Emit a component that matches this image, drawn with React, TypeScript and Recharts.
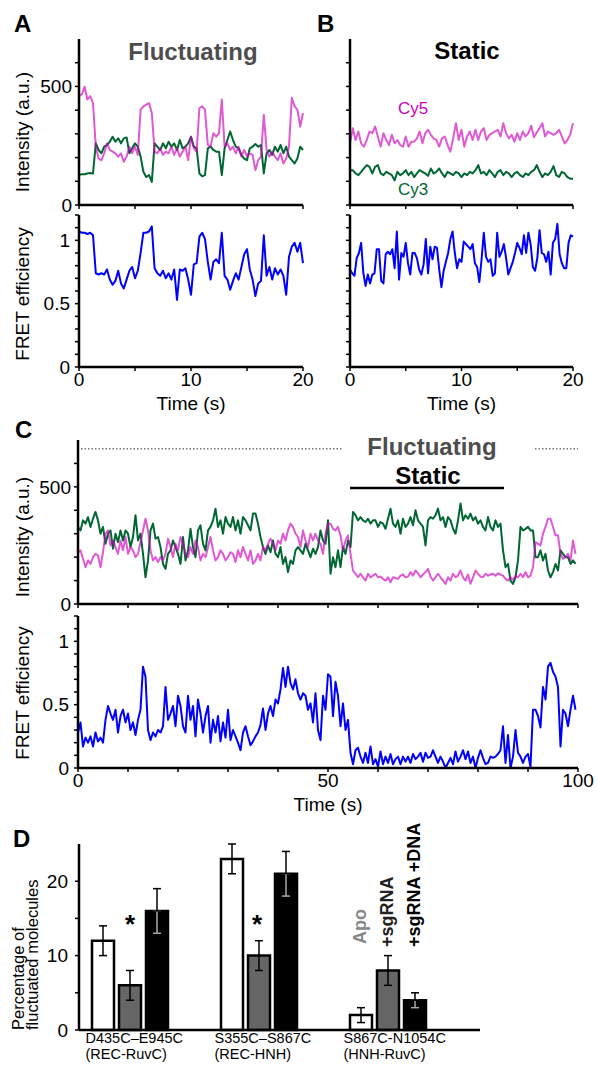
import React from "react";
import {
  Bar,
  BarChart,
  ErrorBar,
  Label,
  Line,
  LineChart,
  ReferenceLine,
  XAxis,
  YAxis,
} from "recharts";

const FONT = '"Liberation Sans", Arial, Helvetica, sans-serif';
const CY3_GREEN = "#006633";
const CY5_MAGENTA = "#cc00bb";
const FRET_BLUE = "#0000ff";

// Panel A: fluctuating molecule, 0.25 s frames
const fluctFrame = 0.25;
const fluctCy5 = [
  459, 466, 499, 445, 459, 430, 246, 196, 189, 218, 260, 232, 225, 218, 204, 218, 182, 204, 246, 218,
  246, 211, 402, 416, 423, 430, 388, 225, 218, 239, 211, 225, 218, 246, 211, 239, 204, 225, 246, 189,
  288, 239, 225, 409, 416, 402, 253, 246, 303, 288, 303, 445, 246, 260, 232, 246, 218, 246, 204, 232,
  204, 218, 211, 147, 189, 204, 381, 232, 204, 225, 204, 189, 218, 175, 196, 246, 452, 416, 402, 331,
  388,
];
const fluctCy3 = [
  126, 130, 130, 133, 135, 133, 260, 232, 218, 246, 253, 267, 288, 267, 281, 260, 281, 285, 218, 239,
  260, 246, 204, 140, 118, 126, 97, 260, 246, 232, 260, 239, 267, 246, 260, 232, 274, 239, 246, 260,
  288, 246, 239, 133, 121, 126, 239, 246, 232, 225, 225, 126, 239, 274, 310, 274, 246, 239, 211, 196,
  189, 239, 246, 257, 246, 253, 133, 218, 232, 211, 246, 225, 253, 218, 246, 204, 189, 175, 196, 246,
  232,
];
const fluctFret = [
  1.07, 1.06, 1.06, 1.05, 1.06, 1.04, 0.74, 0.73, 0.74, 0.73, 0.77, 0.69, 0.65, 0.68, 0.76, 0.66, 0.62, 0.69, 0.76, 0.79,
  0.7, 0.76, 0.9, 1.06, 1.06, 1.07, 1.11, 0.78, 0.74, 0.72, 0.76, 0.7, 0.74, 0.69, 0.77, 0.53, 0.77, 0.76, 0.78, 0.69,
  0.57, 0.81, 0.82, 1.03, 1.06, 1.01, 0.83, 0.69, 0.83, 0.85, 0.82, 1.06, 0.72, 0.69, 0.61, 0.68, 0.74, 0.69, 0.79, 0.89,
  0.93, 0.77, 0.69, 0.56, 0.66, 0.68, 1.04, 0.72, 0.79, 0.69, 0.78, 0.73, 0.77, 0.72, 0.57, 0.87, 0.95, 0.98, 0.91, 0.98,
  0.82,
];

// Panel B: static molecule
const staticFrame = 0.25;
const staticCy5 = [
  260, 324, 274, 310, 260, 246, 274, 310, 303, 331, 289, 246, 303, 274, 253, 296, 260, 274, 253, 246,
  289, 246, 267, 267, 281, 310, 260, 303, 317, 296, 281, 274, 246, 281, 289, 253, 225, 281, 345, 274,
  317, 246, 289, 310, 274, 317, 274, 310, 324, 274, 296, 303, 310, 317, 289, 345, 303, 281, 296, 267,
  303, 274, 310, 289, 303, 334, 286, 306, 324, 345, 289, 310, 303, 296, 303, 317, 289, 260, 274, 296,
  345,
];
const staticCy3 = [
  147, 147, 133, 126, 140, 154, 168, 161, 133, 161, 168, 133, 126, 140, 133, 126, 104, 140, 126, 133,
  147, 126, 140, 118, 133, 147, 140, 133, 123, 154, 133, 140, 154, 133, 118, 140, 133, 126, 140, 133,
  118, 133, 126, 140, 133, 147, 168, 133, 140, 126, 147, 133, 118, 140, 147, 126, 140, 133, 118, 133,
  140, 126, 118, 133, 126, 140, 147, 168, 140, 118, 133, 126, 140, 164, 126, 118, 140, 133, 118, 111,
  111,
];
const staticFretFrame = 0.2;
const staticFret = [
  0.77, 0.74, 0.72, 0.86, 0.9, 0.98, 0.74, 0.64, 0.73, 0.66, 0.73, 0.74, 0.93, 0.93, 0.68, 0.66, 0.89, 0.91, 0.89, 0.93,
  0.78, 1.07, 0.69, 0.9, 0.87, 0.98, 0.82, 0.73, 0.9, 0.9, 0.86, 0.77, 0.73, 0.81, 1.01, 0.74, 0.95, 0.85, 0.95, 0.94,
  0.77, 0.63, 0.76, 0.83, 0.9, 1.01, 1.07, 0.9, 0.78, 0.85, 0.83, 0.99, 0.97, 0.95, 0.93, 0.97, 0.82, 0.79, 0.67, 0.85,
  1.06, 0.87, 0.83, 0.85, 0.72, 0.74, 1.06, 0.87, 0.91, 0.97, 0.86, 0.73, 0.78, 0.83, 0.9, 0.98, 0.94, 0.89, 1.04, 0.9,
  1.06, 0.97, 0.79, 0.76, 0.86, 1.08, 0.9, 0.89, 0.83, 0.91, 0.73, 0.98, 1.01, 1.13, 0.89, 0.82, 0.78, 0.78, 0.98, 1.04,
  1.03,
];

// Panel C: long trace switching between fluctuating and static, 0.5 s frames
const longFrame = 0.5;
const longCy3 = [
  329, 314, 357, 343, 371, 329, 364, 393, 357, 300, 329, 257, 300, 314, 236, 300, 264, 314, 271, 314,
  300, 243, 286, 379, 271, 300, 214, 114, 186, 314, 343, 279, 286, 243, 171, 150, 214, 229, 271, 243,
  214, 171, 286, 186, 229, 321, 243, 200, 314, 336, 257, 229, 314, 329, 357, 407, 329, 357, 300, 371,
  343, 329, 371, 314, 357, 300, 371, 357, 336, 314, 386, 386, 343, 286, 243, 214, 250, 221, 271, 214,
  200, 243, 171, 200, 136, 186, 171, 229, 243, 229, 214, 257, 229, 200, 236, 214, 243, 314, 271, 257,
  357, 129, 200, 157, 229, 157, 243, 214, 271, 243, 393, 379, 357, 371, 357, 350, 364, 343, 357, 357,
  329, 350, 343, 321, 364, 407, 343, 329, 357, 300, 364, 329, 343, 371, 336, 400, 357, 343, 329, 250,
  357, 371, 364, 379, 407, 357, 371, 329, 371, 357, 321, 300, 357, 429, 357, 379, 364, 386, 357, 371,
  343, 357, 329, 314, 371, 329, 314, 357, 329, 343, 229, 157, 171, 100, 86, 114, 186, 329, 314, 321,
  329, 314, 314, 200, 200, 229, 186, 214, 143, 114, 136, 171, 143, 229, 214, 200, 200, 171, 186, 171,
];
const longCy5 = [
  221, 229, 193, 157, 186, 171, 200, 214, 207, 157, 221, 300, 314, 250, 271, 243, 214, 271, 229, 286,
  214, 243, 229, 200, 214, 264, 314, 364, 314, 229, 186, 200, 179, 200, 186, 214, 279, 243, 200, 257,
  229, 286, 257, 214, 200, 243, 214, 271, 243, 186, 214, 200, 243, 286, 229, 186, 200, 229, 214, 186,
  200, 221, 214, 179, 229, 200, 243, 214, 186, 229, 171, 186, 214, 186, 243, 229, 257, 279, 257, 229,
  271, 257, 300, 271, 314, 343, 329, 300, 286, 243, 314, 271, 243, 300, 271, 300, 271, 257, 214, 300,
  343, 343, 321, 314, 329, 293, 229, 271, 293, 214, 143, 129, 114, 129, 114, 100, 129, 114, 121, 129,
  114, 117, 107, 100, 114, 93, 114, 111, 107, 121, 126, 114, 117, 136, 121, 143, 131, 114, 126, 136,
  150, 117, 100, 114, 129, 114, 100, 86, 114, 100, 129, 114, 121, 143, 114, 100, 126, 86, 114, 143,
  129, 117, 114, 129, 121, 126, 129, 121, 131, 126, 121, 107, 100, 114, 103, 121, 114, 129, 114, 136,
  114, 121, 157, 264, 257, 250, 300, 329, 364, 364, 329, 293, 293, 214, 193, 200, 214, 186, 271, 214,
];
const longFret = [
  0.28, 0.36, 0.17, 0.24, 0.2, 0.25, 0.17, 0.28, 0.21, 0.24, 0.2, 0.38, 0.49, 0.43, 0.38, 0.46, 0.28, 0.41, 0.46, 0.36,
  0.43, 0.3, 0.36, 0.26, 0.38, 0.46, 0.8, 0.72, 0.3, 0.22, 0.28, 0.25, 0.3, 0.28, 0.33, 0.64, 0.38, 0.43, 0.49, 0.33,
  0.57, 0.49, 0.33, 0.28, 0.57, 0.38, 0.49, 0.25, 0.54, 0.43, 0.28, 0.41, 0.49, 0.2, 0.38, 0.28, 0.41, 0.21, 0.36, 0.24,
  0.46, 0.22, 0.3, 0.25, 0.2, 0.14, 0.28, 0.33, 0.25, 0.18, 0.21, 0.25, 0.28, 0.34, 0.47, 0.3, 0.43, 0.49, 0.41, 0.54,
  0.51, 0.62, 0.79, 0.64, 0.8, 0.67, 0.62, 0.7, 0.59, 0.54, 0.59, 0.57, 0.46, 0.51, 0.36, 0.59, 0.3, 0.22, 0.57, 0.46,
  0.74, 0.72, 0.41, 0.68, 0.57, 0.33, 0.51, 0.3, 0.38, 0.12, 0.03, 0.14, 0.16, 0.09, 0.04, 0.12, 0.04, 0.17, 0.03, 0.07,
  0.01, 0.13, 0.03, 0.09, 0.04, 0.11, 0.03, 0.07, 0.09, 0.03, 0.09, 0.05, 0.09, 0.04, 0.11, 0.07, 0.09, 0.12, 0.05, 0.12,
  0.08, 0.09, 0.14, 0.09, 0.04, 0.09, 0.05, 0.0, 0.04, 0.08, 0.03, 0.13, 0.05, 0.09, 0.14, 0.07, 0.13, 0.04, 0.09, 0.0,
  0.08, 0.14, 0.08, 0.03, 0.04, 0.09, 0.08, 0.09, 0.11, 0.14, 0.33, 0.04, 0.26, 0.0, 0.09, 0.3, 0.12, 0.09, 0.04, 0.09,
  0.11, 0.01, 0.46, 0.46, 0.41, 0.32, 0.64, 0.54, 0.8, 0.83, 0.76, 0.72, 0.64, 0.17, 0.46, 0.43, 0.33, 0.46, 0.57, 0.46,
];

// annotation spans in panel C (seconds) and the intensity level they are drawn at
const fluctuatingSpans: [number, number][] = [
  [0.6, 53.1],
  [91.4, 100],
];
const staticSpan: [number, number] = [54.4, 85.2];
const fluctuatingMark = 663;
const staticMark = 495;

// Panel D
const constructs = ["D435C–E945C", "S355C–S867C", "S867C-N1054C"];
const domainPairs = ["(REC-RuvC)", "(REC-HNH)", "(HNH-RuvC)"];
const apoPct = [12, 23, 2];
const apoErr = [2, 2, 1];
const sgRnaPct = [6, 10, 8];
const sgRnaErr = [2, 2, 2];
const dnaPct = [16, 21, 4];
const dnaErr = [3, 3, 1];

const timeTicks20 = [0, 5, 10, 15, 20];
const timeLabels20 = [0, 10, 20];
const timeTicks100 = [0, 10, 20, 30, 40, 50, 60, 70, 80, 90, 100];
const timeLabels100 = [0, 50, 100];
const intensityTicks = [0, 100, 200, 300, 400, 500, 600];
const intensityLabels = [0, 500];
const fretTicks = [0, 0.1, 0.2, 0.3, 0.4, 0.5, 0.6, 0.7, 0.8, 0.9, 1, 1.1, 1.2];
const fretLabels = [0, 0.5, 1];
const percentTicks = [0, 5, 10, 15, 20];
const percentLabels = [0, 10, 20];

type Row = Record<string, number>;

function buildTrace(frame: number, columns: Record<string, number[]>): Row[] {
  const length = Math.max(...Object.values(columns).map((c) => c.length));
  return Array.from({ length }, (_, i) => {
    const row: Row = { t: Number((i * frame).toFixed(3)) };
    for (const [key, values] of Object.entries(columns)) row[key] = values[i];
    return row;
  });
}

const fluctRows = buildTrace(fluctFrame, { cy3: fluctCy3, cy5: fluctCy5, fret: fluctFret });
const staticRows = buildTrace(staticFrame, { cy3: staticCy3, cy5: staticCy5 });
const staticFretRows = buildTrace(staticFretFrame, { fret: staticFret });
const longRows = buildTrace(longFrame, { cy3: longCy3, cy5: longCy5, fret: longFret });

const mutantRows = constructs.map((name, i) => ({
  name,
  apo: apoPct[i],
  apoErr: apoErr[i],
  sgRna: sgRnaPct[i],
  sgRnaErr: sgRnaErr[i],
  dna: dnaPct[i],
  dnaErrUp: [0, dnaErr[i]],
  dnaErrDown: [dnaErr[i], 0],
}));

const axisLine = { stroke: "#000", strokeWidth: 2.5 };
const tickLine = { stroke: "#000", strokeWidth: 1.5 };
const tickText = { fill: "#000", fontSize: 19 };

const labelOnly = (shown: number[]) => (value: number) =>
  shown.includes(value) ? String(value) : "";

interface SeriesSpec {
  key: string;
  color: string;
  opacity?: number;
}

interface TraceChartProps {
  left: number;
  top: number;
  axisWidth: number;
  plotWidth: number;
  plotHeight: number;
  xAxisHeight: number;
  data: Row[];
  series: SeriesSpec[];
  xMax: number;
  xTicks: number[];
  xLabels: number[];
  yMax: number;
  yTicks: number[];
  yLabels: number[];
  yTickMargin: number;
  timeTitle?: boolean;
  children?: React.ReactNode;
}

function TraceChart(props: TraceChartProps) {
  const marginTop = 6;
  const marginRight = 22;
  const {
    left,
    top,
    axisWidth,
    plotWidth,
    plotHeight,
    xAxisHeight,
    data,
    series,
  } = props;

  return (
    <div style={{ position: "absolute", left, top }}>
      <LineChart
        width={axisWidth + plotWidth + marginRight}
        height={marginTop + plotHeight + xAxisHeight}
        data={data}
        margin={{ top: marginTop, right: marginRight, bottom: 0, left: 0 }}
      >
        <XAxis
          type="number"
          dataKey="t"
          domain={[0, props.xMax]}
          ticks={props.xTicks}
          interval={0}
          height={xAxisHeight}
          tickSize={4}
          tickMargin={2}
          axisLine={axisLine}
          tickLine={tickLine}
          tick={tickText}
          tickFormatter={labelOnly(props.xLabels)}
        >
          {props.timeTitle && (
            <Label
              value="Time (s)"
              position="insideBottom"
              offset={xAxisHeight - 43}
              fill="#000"
              fontSize={19}
            />
          )}
        </XAxis>
        <YAxis
          type="number"
          domain={[0, props.yMax]}
          ticks={props.yTicks}
          interval={0}
          width={axisWidth}
          tickSize={4}
          tickMargin={props.yTickMargin}
          axisLine={axisLine}
          tickLine={tickLine}
          tick={tickText}
          tickFormatter={labelOnly(props.yLabels)}
        />
        {props.children}
        {series.map((s) => (
          <Line
            key={s.key}
            type="linear"
            dataKey={s.key}
            stroke={s.color}
            strokeOpacity={s.opacity ?? 1}
            strokeWidth={2}
            strokeLinejoin="round"
            dot={false}
            activeDot={false}
            isAnimationActive={false}
          />
        ))}
      </LineChart>
    </div>
  );
}

const intensitySeries: SeriesSpec[] = [
  { key: "cy3", color: CY3_GREEN },
  { key: "cy5", color: CY5_MAGENTA, opacity: 0.65 },
];
const fretSeries: SeriesSpec[] = [{ key: "fret", color: FRET_BLUE }];

function ConstructTick(props: { x: number; y: number; index: number }) {
  const { x, y, index } = props;
  return (
    <g>
      <text x={x - 44} y={y + 13} fontSize={14.5} fill="#000">
        {constructs[index]}
      </text>
      <text x={x - 44} y={y + 29} fontSize={14.5} fill="#000">
        {domainPairs[index]}
      </text>
    </g>
  );
}

function MutantChart() {
  return (
    <div style={{ position: "absolute", left: 0, top: 838 }}>
      <BarChart
        width={490}
        height={230}
        data={mutantRows}
        margin={{ top: 6, right: 10, bottom: 0, left: 0 }}
        barSize={22}
        barGap={5}
      >
        <XAxis
          dataKey="name"
          height={38}
          padding={{ left: -14, right: 28 }}
          interval={0}
          tickSize={0}
          tickMargin={0}
          tickLine={false}
          axisLine={axisLine}
          tick={(p: any) => <ConstructTick x={p.x} y={p.y} index={p.index} />}
        />
        <YAxis
          type="number"
          domain={[0, 25]}
          ticks={percentTicks}
          interval={0}
          width={79}
          tickSize={4}
          tickMargin={7}
          axisLine={axisLine}
          tickLine={tickLine}
          tick={tickText}
          tickFormatter={labelOnly(percentLabels)}
        />
        <Bar dataKey="apo" fill="#fff" stroke="#000" strokeWidth={2.5} isAnimationActive={false}>
          <ErrorBar dataKey="apoErr" width={4} stroke="#000" strokeWidth={1.5} />
        </Bar>
        <Bar dataKey="sgRna" fill="#666" stroke="#000" strokeWidth={2.5} isAnimationActive={false}>
          <ErrorBar dataKey="sgRnaErr" width={4} stroke="#000" strokeWidth={1.5} />
        </Bar>
        <Bar dataKey="dna" fill="#000" stroke="#000" strokeWidth={2.5} isAnimationActive={false}>
          <ErrorBar dataKey="dnaErrDown" width={4} stroke="#aaa" strokeWidth={1.5} />
          <ErrorBar dataKey="dnaErrUp" width={4} stroke="#000" strokeWidth={1.5} />
        </Bar>
      </BarChart>
    </div>
  );
}

function Annotations() {
  const bold = { fontWeight: 700 };
  return (
    <svg
      width={598}
      height={1068}
      style={{ position: "absolute", left: 0, top: 0, pointerEvents: "none" }}
    >
      <g fontSize={24} style={bold} fill="#000">
        <text x={14} y={32}>A</text>
        <text x={317} y={32}>B</text>
        <text x={15} y={438}>C</text>
        <text x={13} y={847}>D</text>
      </g>
      <g fontSize={24} style={bold} textAnchor="middle">
        <text x={193} y={60} fill="#4d4d4d">Fluctuating</text>
        <text x={467} y={59} fill="#000">Static</text>
        <text x={432} y={455} fill="#4d4d4d">Fluctuating</text>
        <text x={428} y={484} fill="#000">Static</text>
      </g>
      <g fontSize={17} textAnchor="middle">
        <text x={413} y={114} fill={CY5_MAGENTA}>Cy5</text>
        <text x={413} y={195} fill={CY3_GREEN}>Cy3</text>
      </g>
      <g fontSize={19} textAnchor="middle" fill="#000">
        <text transform="translate(29,132) rotate(-90)">Intensity (a.u.)</text>
        <text transform="translate(29,294) rotate(-90)">FRET efficiency</text>
        <text transform="translate(29,537) rotate(-90)">Intensity (a.u.)</text>
        <text transform="translate(29,693) rotate(-90)">FRET efficiency</text>
      </g>
      <g fontSize={16.5} fill="#000">
        <text transform="translate(24,1030) rotate(-90)">Percentage of</text>
        <text transform="translate(38,1030) rotate(-90)">fluctuated molecules</text>
      </g>
      <g fontSize={26} style={bold} textAnchor="middle" fill="#000">
        <text x={130} y={933}>*</text>
        <text x={257} y={933}>*</text>
      </g>
      <g fontSize={18} style={bold}>
        <text transform="translate(366,944) rotate(-90)" fill="#888">Apo</text>
        <text transform="translate(393,947) rotate(-90)" fill="#222">+sgRNA</text>
        <text transform="translate(420,947) rotate(-90)" fill="#000">+sgRNA +DNA</text>
      </g>
    </svg>
  );
}

export default function App() {
  return (
    <div
      style={{
        position: "absolute",
        left: 0,
        top: 0,
        width: 598,
        height: 1068,
        background: "#fff",
        fontFamily: FONT,
        overflow: "hidden",
      }}
    >
      <TraceChart
        left={0}
        top={33}
        axisWidth={79}
        plotWidth={224}
        plotHeight={166}
        xAxisHeight={16}
        data={fluctRows}
        series={intensitySeries}
        xMax={20}
        xTicks={timeTicks20}
        xLabels={[]}
        yMax={700}
        yTicks={intensityTicks}
        yLabels={intensityLabels}
        yTickMargin={3}
      />
      <TraceChart
        left={0}
        top={209}
        axisWidth={79}
        plotWidth={224}
        plotHeight={152}
        xAxisHeight={50}
        data={fluctRows}
        series={fretSeries}
        xMax={20}
        xTicks={timeTicks20}
        xLabels={timeLabels20}
        yMax={1.2}
        yTicks={fretTicks}
        yLabels={fretLabels}
        yTickMargin={5}
        timeTitle
      />
      <TraceChart
        left={271}
        top={33}
        axisWidth={79}
        plotWidth={223}
        plotHeight={166}
        xAxisHeight={16}
        data={staticRows}
        series={intensitySeries}
        xMax={20}
        xTicks={timeTicks20}
        xLabels={[]}
        yMax={700}
        yTicks={intensityTicks}
        yLabels={[]}
        yTickMargin={3}
      />
      <TraceChart
        left={271}
        top={209}
        axisWidth={79}
        plotWidth={223}
        plotHeight={152}
        xAxisHeight={50}
        data={staticFretRows}
        series={fretSeries}
        xMax={20}
        xTicks={timeTicks20}
        xLabels={timeLabels20}
        yMax={1.2}
        yTicks={fretTicks}
        yLabels={[]}
        yTickMargin={5}
        timeTitle
      />
      <TraceChart
        left={0}
        top={434}
        axisWidth={78}
        plotWidth={500}
        plotHeight={164}
        xAxisHeight={16}
        data={longRows}
        series={intensitySeries}
        xMax={100}
        xTicks={timeTicks100}
        xLabels={[]}
        yMax={700}
        yTicks={intensityTicks}
        yLabels={intensityLabels}
        yTickMargin={3}
      >
        {fluctuatingSpans.map(([start, end]) => (
          <ReferenceLine
            key={start}
            segment={[
              { x: start, y: fluctuatingMark },
              { x: end, y: fluctuatingMark },
            ]}
            stroke="#777"
            strokeWidth={1.5}
            strokeDasharray="1.5 2"
          />
        ))}
        <ReferenceLine
          segment={[
            { x: staticSpan[0], y: staticMark },
            { x: staticSpan[1], y: staticMark },
          ]}
          stroke="#000"
          strokeWidth={2.5}
        />
      </TraceChart>
      <TraceChart
        left={0}
        top={610}
        axisWidth={78}
        plotWidth={500}
        plotHeight={152}
        xAxisHeight={50}
        data={longRows}
        series={fretSeries}
        xMax={100}
        xTicks={timeTicks100}
        xLabels={timeLabels100}
        yMax={1.2}
        yTicks={fretTicks}
        yLabels={fretLabels}
        yTickMargin={5}
        timeTitle
      />
      <MutantChart />
      <Annotations />
    </div>
  );
}
